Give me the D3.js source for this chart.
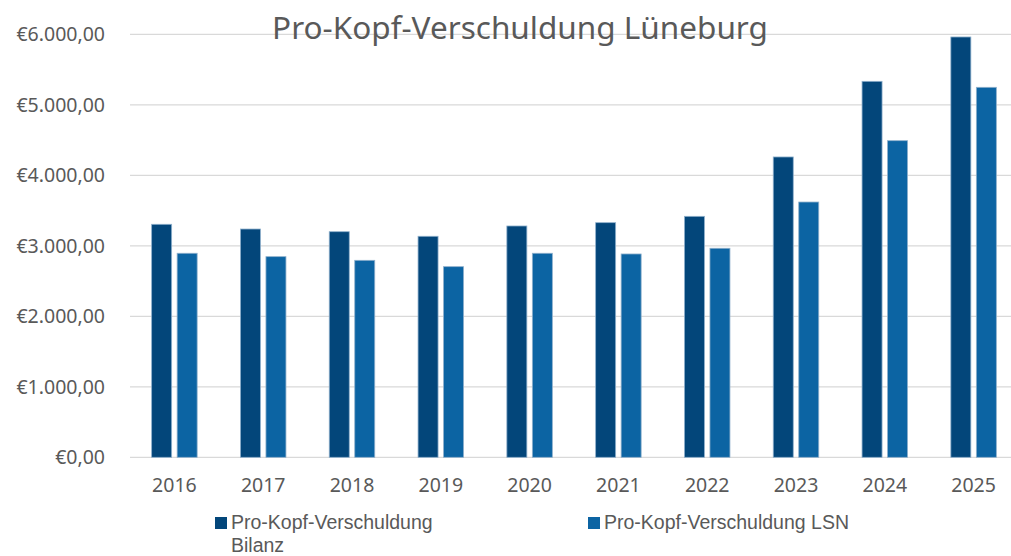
<!DOCTYPE html>
<html><head><meta charset="utf-8">
<script src="https://cdn.jsdelivr.net/npm/d3@7"></script>
<style>body{margin:0;background:#fff}text{font-family:"Noto Sans",sans-serif}text.lg{font-family:"Liberation Sans",sans-serif}</style>
</head><body><svg id="c" width="1011" height="556"></svg>
<script>
const years = ["2016","2017","2018","2019","2020","2021","2022","2023","2024","2025"];
const bilanz = [3305,3238,3200,3135,3281,3328,3418,4260,5333,5962];
const lsn = [2894,2846,2794,2704,2894,2884,2965,3621,4491,5248];
const seriesNames = ["Pro-Kopf-Verschuldung Bilanz","Pro-Kopf-Verschuldung LSN"];
const yTicks = [0,1000,2000,3000,4000,5000,6000];
const colors = ["#03467a","#0c64a3"];

const svg = d3.select("#c");
const x = d3.scaleBand().domain(years).range([130,1018]);
const y = d3.scaleLinear().domain([0,6000]).range([457.3,34.3]);
const fmt = v => "€" + d3.format(",.2f")(v).replace(/,/g,"X").replace(/\./g,",").replace(/X/g,".");

svg.append("g").selectAll("line").data(yTicks).join("line")
  .attr("x1",130).attr("x2",1011).attr("y1",d=>y(d)).attr("y2",d=>y(d))
  .attr("stroke","#d9d9d9").attr("stroke-width",1.3);

svg.append("g").selectAll("text").data(yTicks).join("text")
  .attr("x",105).attr("y",d=>y(d)+7).attr("text-anchor","end")
  .attr("font-size",19.5).attr("fill","#595959").text(fmt);

svg.append("g").selectAll("text").data(years).join("text")
  .attr("x",d=>x(d)+x.bandwidth()/2).attr("y",492).attr("text-anchor","middle")
  .attr("font-size",19.5).attr("fill","#595959").text(d=>d);

const bw = 20, gap = 5.5;
[bilanz,lsn].forEach((vals,i)=>{
  svg.append("g").selectAll("rect").data(vals).join("rect")
    .attr("x",(d,j)=>x(years[j])+x.bandwidth()/2 + (i===0 ? -gap/2-bw : gap/2))
    .attr("y",d=>y(d)).attr("width",bw).attr("height",d=>y(0)-y(d))
    .attr("fill",colors[i]).attr("stroke","#8fb0cc").attr("stroke-width",0.8);
});

svg.append("text").attr("x",520).attr("y",39).attr("text-anchor","middle")
  .attr("font-size",31.5).attr("fill","#595959").text("Pro-Kopf-Verschuldung Lüneburg");

// legend
const lg = svg.append("g");
const lf = 19.5;
lg.append("rect").attr("x",215).attr("y",517).attr("width",12).attr("height",12).attr("fill",colors[0]);
lg.append("text").attr("class","lg").attr("x",231).attr("y",529).attr("font-size",lf).attr("fill","#595959").text("Pro-Kopf-Verschuldung");
lg.append("text").attr("class","lg").attr("x",231).attr("y",551.5).attr("font-size",lf).attr("fill","#595959").text("Bilanz");
lg.append("rect").attr("x",588).attr("y",517).attr("width",12).attr("height",12).attr("fill",colors[1]);
lg.append("text").attr("class","lg").attr("x",604).attr("y",529).attr("font-size",lf).attr("fill","#595959").text(seriesNames[1]);
</script></body></html>
